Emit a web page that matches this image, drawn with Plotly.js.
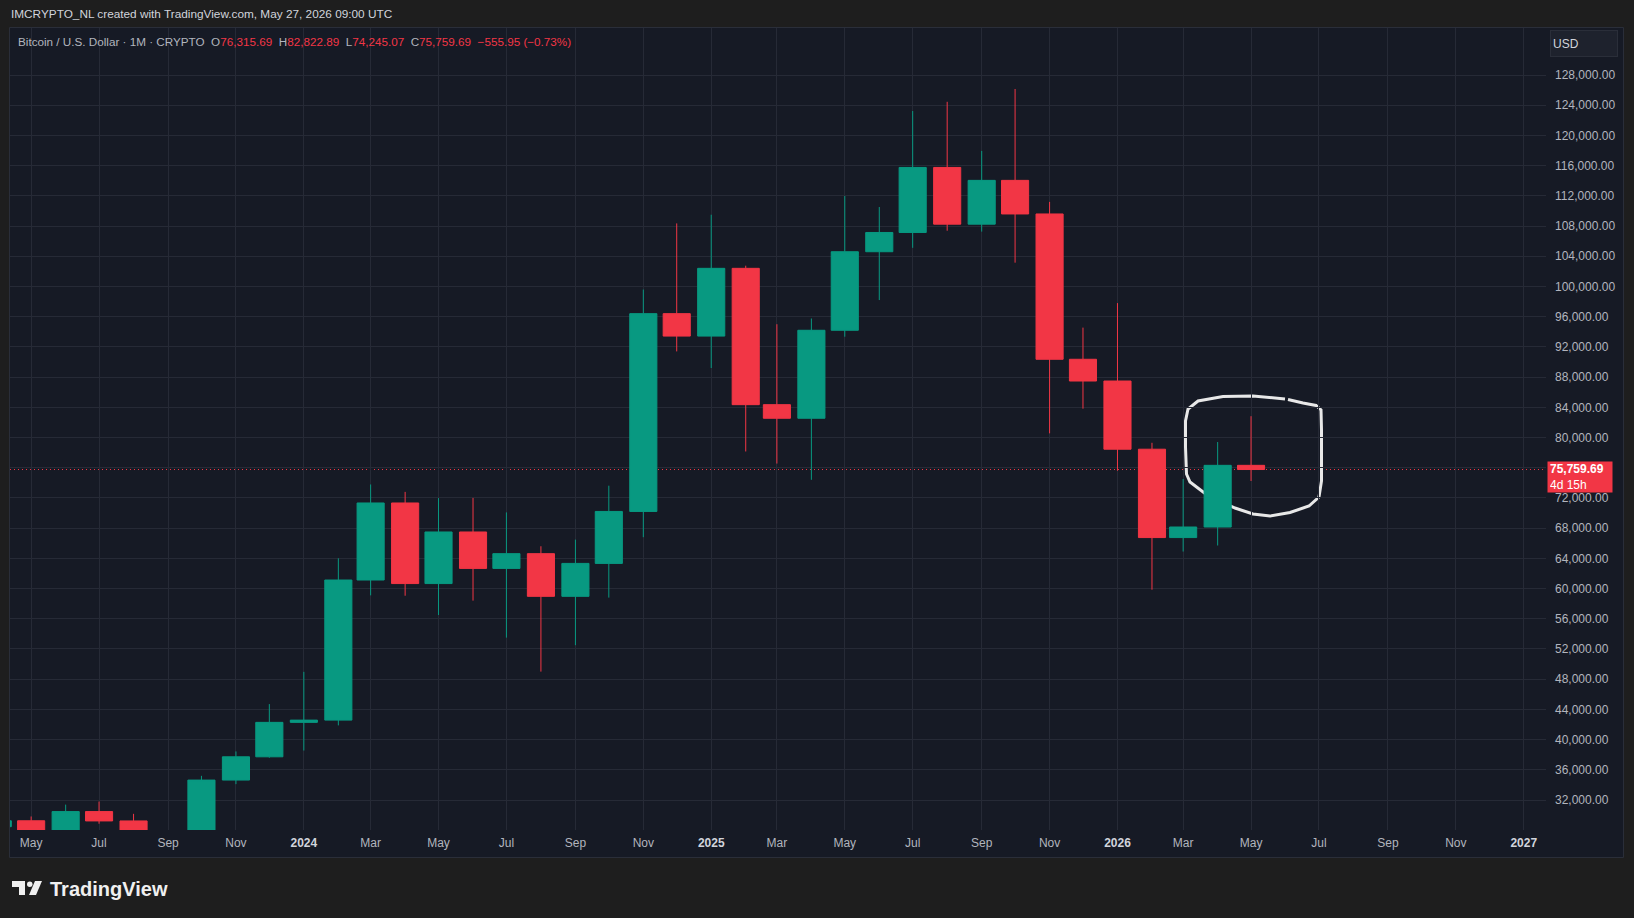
<!DOCTYPE html>
<html><head><meta charset="utf-8">
<script src="https://cdn.plot.ly/plotly-3.0.1.min.js"></script>
<style>html,body{margin:0;padding:0;background:#1e1e1e;overflow:hidden}#chart{width:1634px;height:918px}</style>
</head><body><div id="chart"></div>
<script>
// Monthly BTC/USD candles (TradingView, 1M)
const months = ["2023-04-01","2023-05-01","2023-06-01","2023-07-01","2023-08-01","2023-09-01","2023-10-01","2023-11-01","2023-12-01",
  "2024-01-01","2024-02-01","2024-03-01","2024-04-01","2024-05-01","2024-06-01","2024-07-01","2024-08-01","2024-09-01","2024-10-01","2024-11-01","2024-12-01",
  "2025-01-01","2025-02-01","2025-03-01","2025-04-01","2025-05-01","2025-06-01","2025-07-01","2025-08-01","2025-09-01","2025-10-01","2025-11-01","2025-12-01",
  "2026-01-01","2026-02-01","2026-03-01","2026-04-01","2026-05-01"];
const openP = [28470,29250,27220,30470,29230,25930,26960,34640,37720,
  42280,42580,61130,71330,60660,67490,62670,64620,58970,63330,70210,96400,
  93430,102400,84350,82550,94200,104600,107150,115760,108250,114050,109600,90360,
  87480,78450,66750,68150,76315.69];
const highP = [31000,29820,31390,31800,30170,27480,35200,38430,44700,
  48970,64000,73780,72800,71980,72000,70080,65600,66480,73620,99590,108350,
  109500,102750,95000,95760,111980,110520,123230,124450,117950,126150,111200,94550,
  97800,79300,74500,79400,82822.89];
const lowP = [26940,25870,24800,28860,25400,24900,26560,34100,37600,
  38550,41880,59100,59050,56500,58400,53500,49000,52500,58800,66800,91400,
  89200,78150,76550,74400,93350,98200,105120,107380,107260,103150,80550,83820,
  75600,59850,64900,65700,74245.07];
const closeP = [29250,27220,30470,29230,25930,26960,34640,37720,42280,
  42580,61130,71330,60660,67490,62670,64620,58970,63330,70210,96400,93430,
  102400,84350,82550,94200,104600,107150,115760,108250,114050,109600,90360,87480,
  78450,66750,68150,76315.69,75759.69];

const xTickVals = ["2023-05-01","2023-07-01","2023-09-01","2023-11-01","2024-01-01","2024-03-01","2024-05-01","2024-07-01","2024-09-01","2024-11-01",
  "2025-01-01","2025-03-01","2025-05-01","2025-07-01","2025-09-01","2025-11-01","2026-01-01","2026-03-01","2026-05-01","2026-07-01","2026-09-01","2026-11-01","2027-01-01"];
const xTickText = ["May","Jul","Sep","Nov","2024","Mar","May","Jul","Sep","Nov","2025","Mar","May","Jul","Sep","Nov","2026","Mar","May","Jul","Sep","Nov","2027"];
const yTickVals = [32000,36000,40000,44000,48000,52000,56000,60000,64000,68000,72000,76000,80000,84000,88000,92000,96000,100000,104000,108000,112000,116000,120000,124000,128000];
const yHiddenTick = 76000; // covered by the last-price label in the reference

const headerText = "IMCRYPTO_NL created with TradingView.com, May 27, 2026 09:00 UTC";
const symbolText = "Bitcoin / U.S. Dollar · 1M · CRYPTO";
const changeText = "−555.95 (−0.73%)";
const countdown = "4d 15h";

const UP = "#089981", DOWN = "#F23645";
const FONT = "Liberation Sans, Arial, sans-serif";

// layout geometry (pixels)
const L = 10, R = 1546, T = 28, B = 830;
const px = x => (x - L) / (R - L);
const py = y => (B - y) / (B - T);

const last = closeP.length - 1;
const fmt = v => v.toLocaleString("en-US", {minimumFractionDigits: 2, maximumFractionDigits: 2});

const ticktext = xTickText.map(t => /^\d{4}$/.test(t) ? '<span style="color:#D1D4DC"><b>' + t + '</b></span>' : t);
const yTickText = yTickVals.map(v => v === yHiddenTick ? "" : fmt(v));

const legendLine = '<span style="color:#B2B5BE">' + symbolText + '  O</span><span style="color:' + DOWN + '">' + fmt(openP[last]) +
  '</span><span style="color:#B2B5BE">  H</span><span style="color:' + DOWN + '">' + fmt(highP[last]) +
  '</span><span style="color:#B2B5BE">  L</span><span style="color:' + DOWN + '">' + fmt(lowP[last]) +
  '</span><span style="color:#B2B5BE">  C</span><span style="color:' + DOWN + '">' + fmt(closeP[last]) + '  ' + changeText + '</span>';

// hand-drawn highlight loop (pixel points)
const loopPts = [[1285,399],[1253,396],[1223,396.5],[1198,401],[1188,409],[1185.5,421],[1185.5,447],[1186.5,474],[1190,482],[1207,495],[1235,508],[1253,514],[1270,516],[1290,512.5],[1309,506],[1319,497],[1321.5,481],[1321.5,430],[1321,410],[1316,405.5],[1303,403],[1288,399.5]];
const loopPath = loopPts.map((p, i) => (i ? "L" : "M") + px(p[0]).toFixed(5) + "," + py(p[1]).toFixed(5)).join(" ");

const trace = {
  type: "candlestick", x: months, open: openP, high: highP, low: lowP, close: closeP,
  increasing: {line: {color: UP, width: 1}, fillcolor: UP},
  decreasing: {line: {color: DOWN, width: 1}, fillcolor: DOWN},
  whiskerwidth: 0, showlegend: false, hoverinfo: "x+y"
};

const layout = {
  width: 1634, height: 918,
  margin: {l: L, r: 1634 - R, t: T, b: 918 - B, pad: 0},
  paper_bgcolor: "#1e1e1e", plot_bgcolor: "rgba(0,0,0,0)",
  font: {family: FONT, size: 12, color: "#B2B5BE"},
  showlegend: false, boxgap: 0.13, boxgroupgap: 0,
  xaxis: {
    type: "date", range: ["2023-04-12", "2027-01-21"], rangeslider: {visible: false},
    tickvals: xTickVals, ticktext: ticktext, tickfont: {size: 12, color: "#B2B5BE"},
    showgrid: true, gridcolor: "#262A36", gridwidth: 1, zeroline: false, showline: false, ticks: "", ticklabelstandoff: 4, fixedrange: true
  },
  yaxis: {
    side: "right", range: [28029, 134224], tickvals: yTickVals, ticktext: yTickText,
    tickfont: {size: 12, color: "#B2B5BE"}, showgrid: true, gridcolor: "#262A36", gridwidth: 1,
    zeroline: false, showline: false, ticks: "", ticklabelstandoff: 8, fixedrange: true
  },
  shapes: [
    {type: "rect", xref: "paper", yref: "paper", x0: px(9.5), x1: px(1623.5), y0: py(857.5), y1: py(27.5),
     fillcolor: "#161A25", line: {color: "#2A2E39", width: 1}, layer: "below"},
    {type: "line", xref: "paper", yref: "y", x0: 0, x1: 1, y0: closeP[last], y1: closeP[last],
     line: {color: DOWN, width: 1, dash: "1px,3px"}, layer: "between"},
    {type: "path", xref: "paper", yref: "paper", path: loopPath, line: {color: "#E8E8E8", width: 3}, layer: "between"},
    // TradingView logo mark
    {type: "path", xref: "paper", yref: "paper", path: "M" + px(12) + "," + py(881) + " L" + px(25) + "," + py(881) + " L" + px(25) + "," + py(895) + " L" + px(19) + "," + py(895) + " L" + px(19) + "," + py(887) + " L" + px(12) + "," + py(887) + " Z", fillcolor: "#F0F0F0", line: {width: 0}},
    {type: "circle", xref: "paper", yref: "paper", x0: px(27), x1: px(32.5), y0: py(887), y1: py(881.5), fillcolor: "#F0F0F0", line: {width: 0}},
    {type: "path", xref: "paper", yref: "paper", path: "M" + px(35) + "," + py(881) + " L" + px(42) + "," + py(881) + " L" + px(36) + "," + py(895) + " L" + px(29) + "," + py(895) + " Z", fillcolor: "#F0F0F0", line: {width: 0}}
  ],
  annotations: [
    {xref: "paper", yref: "paper", x: px(9), y: py(14), xanchor: "left", yanchor: "middle", showarrow: false,
     text: headerText, font: {size: 11.8, color: "#D1D4DC", family: FONT}},
    {xref: "paper", yref: "paper", x: px(16), y: py(41), xanchor: "left", yanchor: "middle", showarrow: false,
     text: legendLine, font: {size: 11.7, color: "#B2B5BE", family: FONT}},
    {xref: "paper", yref: "paper", x: px(1550), y: py(30), xanchor: "left", yanchor: "top", showarrow: false,
     text: "USD", width: 62, height: 21, align: "left", borderpad: 2, bgcolor: "#1E222D", bordercolor: "#2A2E39", borderwidth: 1,
     font: {size: 12, color: "#D1D4DC", family: FONT}},
    {xref: "paper", yref: "y", x: 1, y: closeP[last], xanchor: "left", yanchor: "middle", xshift: 1, yshift: -7, showarrow: false,
     text: "<b>" + fmt(closeP[last]) + "</b><br>" + countdown, align: "left", width: 60, height: 26, borderpad: 2,
     bgcolor: DOWN, font: {size: 12, color: "#FFFFFF", family: FONT}},
    {xref: "paper", yref: "paper", x: px(48), y: py(889), xanchor: "left", yanchor: "middle", showarrow: false,
     text: "<b>TradingView</b>", font: {size: 20, color: "#F0F0F0", family: FONT}}
  ]
};

Plotly.newPlot("chart", [trace], layout, {displayModeBar: false, staticPlot: true});
</script>
</body></html>
